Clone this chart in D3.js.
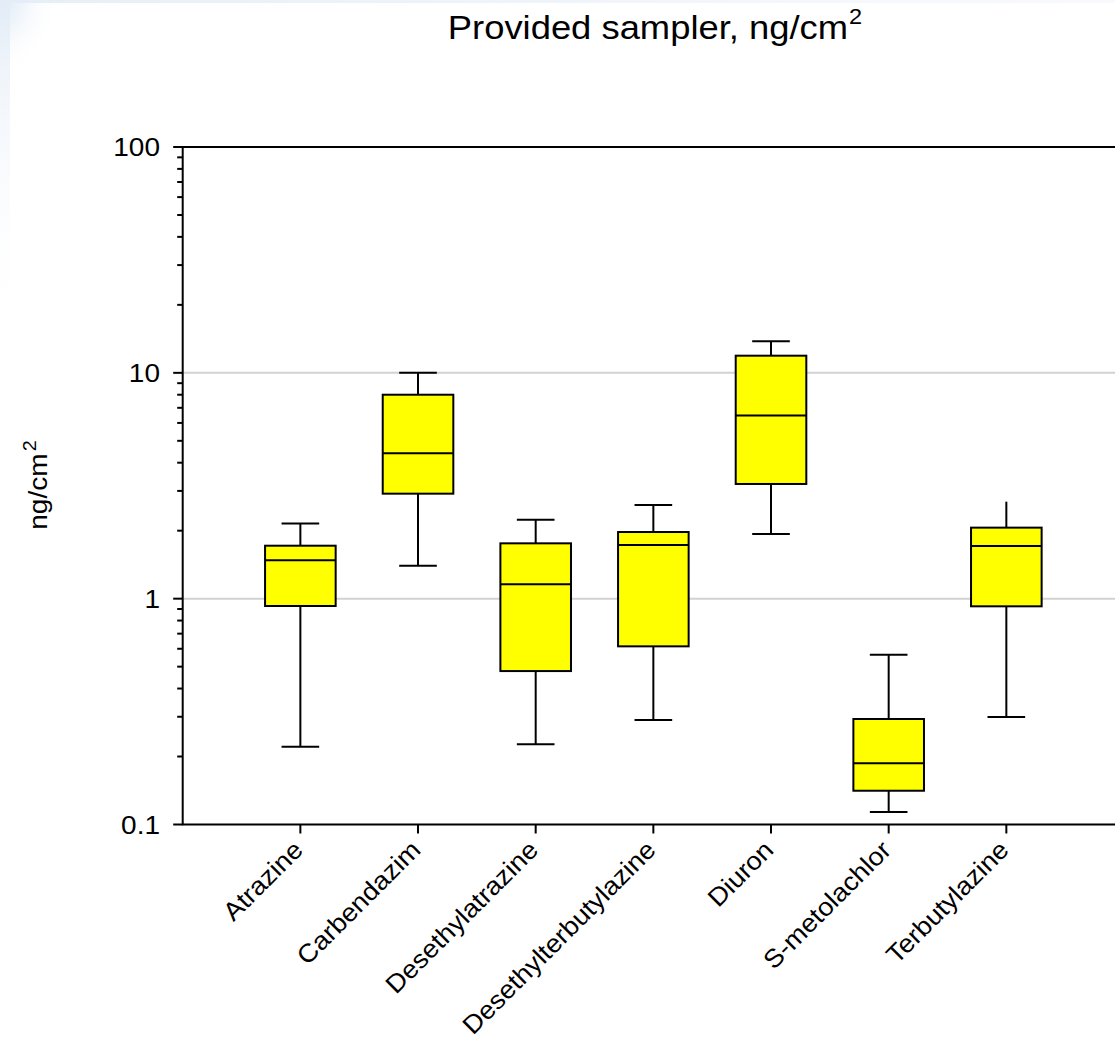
<!DOCTYPE html>
<html>
<head>
<meta charset="utf-8">
<script src="https://cdn.jsdelivr.net/npm/d3@7"></script>
<style>
  html, body { margin: 0; padding: 0; background: #ffffff; }
  svg { display: block; }
  text { font-family: "Liberation Sans", Arial, sans-serif; fill: #000; }
</style>
</head>
<body>
<svg id="chart" width="1115" height="1041"></svg>
<script>
// Pesticide loads on the provided sampler (ng/cm²), one box per compound
const categories = ["Atrazine", "Carbendazim", "Desethylatrazine", "Desethylterbutylazine",
                    "Diuron", "S-metolachlor", "Terbutylazine"];
const whiskerLow  = [0.221, 1.40, 0.2265, 0.290, 1.934, 0.1136, 0.299];
const quartile1   = [0.928, 2.917, 0.478, 0.615, 3.22, 0.1411, 0.925];
const medians     = [1.479, 4.40, 1.158, 1.729, 6.48, 0.1866, 1.711];
const quartile3   = [1.716, 8.0, 1.758, 1.973, 11.91, 0.2932, 2.063];
const whiskerHigh = [2.15, 10.0, 2.237, 2.599, 13.79, 0.565, 2.688];
const upperCap    = [true, true, true, true, true, true, false];

const yTickValues = [0.1, 1, 10, 100];
const yTickLabels = ["0.1", "1", "10", "100"];
const gridValues  = [1, 10];

const svg = d3.select("#chart");

// soft blue backdrop in the upper-left corner
const defs = svg.append("defs");
const rg = defs.append("radialGradient").attr("id", "corner")
  .attr("cx", 0).attr("cy", 0).attr("r", 1);
rg.append("stop").attr("offset", "0%").attr("stop-color", "#d6e4f4").attr("stop-opacity", 0.95);
rg.append("stop").attr("offset", "100%").attr("stop-color", "#ffffff").attr("stop-opacity", 0);
svg.append("rect").attr("x", 0).attr("y", 0).attr("width", 60).attr("height", 75).attr("fill", "url(#corner)");
const lg = defs.append("linearGradient").attr("id", "leftEdge").attr("x1", 0).attr("y1", 0).attr("x2", 0).attr("y2", 1);
lg.append("stop").attr("offset", "0%").attr("stop-color", "#e3ecf7").attr("stop-opacity", 0.9);
lg.append("stop").attr("offset", "100%").attr("stop-color", "#ffffff").attr("stop-opacity", 0);
svg.append("rect").attr("x", 0).attr("y", 0).attr("width", 10).attr("height", 340).attr("fill", "url(#leftEdge)");
const tg = defs.append("linearGradient").attr("id", "topEdge").attr("x1", 0).attr("y1", 0).attr("x2", 1).attr("y2", 0);
tg.append("stop").attr("offset", "0%").attr("stop-color", "#e3ecf7").attr("stop-opacity", 0.9);
tg.append("stop").attr("offset", "100%").attr("stop-color", "#f0f4fa").attr("stop-opacity", 0.5);
svg.append("rect").attr("x", 0).attr("y", 0).attr("width", 1115).attr("height", 3).attr("fill", "url(#topEdge)");

const plotLeft = 182.7, plotRight = 1124, plotTop = 147, plotBottom = 824.5;
const stretch = 1.07; // lettering is set slightly wide

const x = d3.scaleLinear().domain([0, categories.length + 1]).range([plotLeft, plotRight]);
const y = d3.scaleLog().domain([0.1, 100]).range([plotBottom, plotTop]);

const boxW = 0.6, capW = 0.32;

// horizontal gridlines
svg.append("g").selectAll("line").data(gridValues).join("line")
  .attr("x1", plotLeft).attr("x2", plotRight)
  .attr("y1", d => y(d)).attr("y2", d => y(d))
  .attr("stroke", "#d2d2d2").attr("stroke-width", 2);

// boxes
const rows = categories.map((c, i) => ({
  c, i, lo: whiskerLow[i], q1: quartile1[i], med: medians[i], q3: quartile3[i], hi: whiskerHigh[i], cap: upperCap[i]
}));
const g = svg.append("g").attr("stroke", "#000").attr("stroke-width", 2);
rows.forEach(r => {
  const cx = x(r.i + 1);
  const bw = x(boxW) - x(0), cw = x(capW) - x(0);
  // whiskers
  g.append("line").attr("x1", cx).attr("x2", cx).attr("y1", y(r.q3)).attr("y2", y(r.hi));
  g.append("line").attr("x1", cx).attr("x2", cx).attr("y1", y(r.q1)).attr("y2", y(r.lo));
  if (r.cap) g.append("line").attr("x1", cx - cw / 2).attr("x2", cx + cw / 2).attr("y1", y(r.hi)).attr("y2", y(r.hi));
  g.append("line").attr("x1", cx - cw / 2).attr("x2", cx + cw / 2).attr("y1", y(r.lo)).attr("y2", y(r.lo));
  // box
  g.append("rect").attr("x", cx - bw / 2).attr("width", bw)
    .attr("y", y(r.q3)).attr("height", y(r.q1) - y(r.q3))
    .attr("fill", "#ffff00");
  g.append("line").attr("x1", cx - bw / 2).attr("x2", cx + bw / 2).attr("y1", y(r.med)).attr("y2", y(r.med));
});

// frame: left, top, bottom lines
const frame = svg.append("g").attr("stroke", "#000").attr("stroke-width", 2).attr("fill", "none");
frame.append("path").attr("d", `M${plotRight},${plotTop}H${plotLeft}V${plotBottom}H${plotRight}`);

// y axis ticks (major + minor) on the left
const minor = [];
for (let dec = 0.1; dec < 100; dec *= 10) for (let k = 2; k <= 9; k++) minor.push(+(dec * k).toPrecision(3));
svg.append("g").selectAll("line").data(minor).join("line")
  .attr("x1", plotLeft - 5.5).attr("x2", plotLeft).attr("y1", d => y(d)).attr("y2", d => y(d))
  .attr("stroke", "#000").attr("stroke-width", 2);
svg.append("g").selectAll("line").data(yTickValues).join("line")
  .attr("x1", plotLeft - 9.5).attr("x2", plotLeft).attr("y1", d => y(d)).attr("y2", d => y(d))
  .attr("stroke", "#000").attr("stroke-width", 2);
svg.append("g").selectAll("text").data(yTickValues).join("text")
  .attr("transform", d => `translate(160,${y(d)}) scale(1.12,1)`)
  .attr("dy", "0.36em")
  .attr("text-anchor", "end").attr("font-size", 25)
  .text((d, i) => yTickLabels[i]);

// x axis ticks and rotated labels
svg.append("g").selectAll("line").data(categories).join("line")
  .attr("x1", (d, i) => x(i + 1)).attr("x2", (d, i) => x(i + 1))
  .attr("y1", plotBottom).attr("y2", plotBottom + 9)
  .attr("stroke", "#000").attr("stroke-width", 2);
svg.append("g").selectAll("text").data(categories).join("text")
  .attr("transform", (d, i) => `translate(${x(i + 1) + 4},${plotBottom + 27}) rotate(-45) scale(${stretch},1)`)
  .attr("text-anchor", "end").attr("font-size", 25.5)
  .text(d => d);

// title
const title = svg.append("text").attr("transform", "translate(655,39) scale(1.07,1)")
  .attr("text-anchor", "middle").attr("font-size", 34);
title.append("tspan").text("Provided sampler, ng/cm");
title.append("tspan").attr("font-size", 22).attr("dx", 1).attr("dy", -15).text("2");

// y axis title
const yt = svg.append("text").attr("transform", `translate(47,485) rotate(-90) scale(1.1,1)`)
  .attr("text-anchor", "middle").attr("font-size", 25.5);
yt.append("tspan").text("ng/cm");
yt.append("tspan").attr("font-size", 18).attr("dx", 2).attr("dy", -11).text("2");
</script>
</body>
</html>
